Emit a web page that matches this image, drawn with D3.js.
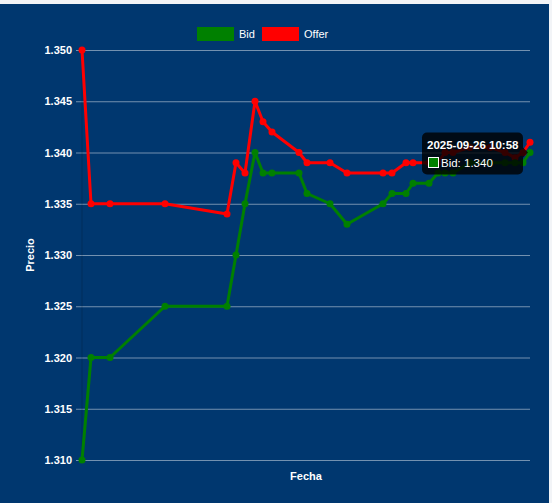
<!DOCTYPE html>
<meta charset="utf-8">
<style>
body { margin: 0; background: #f2f4f7; }
svg { display: block; font-family: "Liberation Sans", Arial, sans-serif; }
.tick text { fill: #fff; font-size: 11px; font-weight: bold; }
.label { fill: #fff; font-size: 11px; font-weight: bold; }
</style>
<body>
<script src="https://cdn.jsdelivr.net/npm/d3@7/dist/d3.min.js"></script>
<script>
var w = 552, h = 503,
    plotLeft = 82, plotRight = 530, plotTop = 50, plotBottom = 460;

var fechas = ["2025-09-21 18:58","2025-09-21 21:13","2025-09-22 01:58","2025-09-22 15:43",
  "2025-09-23 07:13","2025-09-23 09:28","2025-09-23 11:43","2025-09-23 14:13",
  "2025-09-23 16:13","2025-09-23 18:28","2025-09-24 01:13","2025-09-24 03:13",
  "2025-09-24 08:58","2025-09-24 13:13","2025-09-24 22:13","2025-09-25 00:28",
  "2025-09-25 03:58","2025-09-25 05:43","2025-09-25 09:43","2025-09-25 11:58",
  "2025-09-25 13:43","2025-09-25 15:43","2025-09-25 19:58","2025-09-26 00:58",
  "2025-09-26 04:43","2025-09-26 07:13","2025-09-26 09:13","2025-09-26 10:58"];
var bid = [1.310,1.320,1.320,1.325,1.325,1.330,1.335,1.340,1.338,1.338,1.338,1.336,
  1.335,1.333,1.335,1.336,1.336,1.337,1.337,1.338,1.338,1.338,1.339,1.339,
  1.339,1.339,1.339,1.340];
var offer = [1.350,1.335,1.335,1.335,1.334,1.339,1.338,1.345,1.343,1.342,1.340,1.339,
  1.339,1.338,1.338,1.338,1.339,1.339,1.339,1.339,1.340,1.340,1.3405,1.3405,
  1.340,1.3395,1.340,1.341];
var yTicks = [1.310,1.315,1.320,1.325,1.330,1.335,1.340,1.345,1.350];

var parse = d3.timeParse("%Y-%m-%d %H:%M");
var dates = fechas.map(parse);

var x = d3.scaleTime().domain(d3.extent(dates)).range([plotLeft, plotRight]);
var y = d3.scaleLinear().domain([1.310, 1.350]).range([plotBottom, plotTop]);

var svg = d3.select("body").append("svg")
    .attr("width", w)
    .attr("height", h);

svg.append("rect")
    .attr("x", 0).attr("y", 4)
    .attr("width", 549).attr("height", h - 4)
    .attr("fill", "#00376f");

/* y axis with grid */
var yAxis = svg.append("g")
    .attr("transform", "translate(" + plotLeft + ",0)")
    .call(d3.axisLeft(y).tickValues(yTicks).tickFormat(d3.format(".3f"))
      .tickSize(6).tickPadding(4));
yAxis.select(".domain").remove();
yAxis.selectAll(".tick line")
    .attr("x2", plotRight - plotLeft)
    .attr("x1", -6)
    .attr("stroke", "rgba(255,255,255,0.45)");

svg.append("line")
    .attr("x1", plotLeft).attr("x2", plotLeft)
    .attr("y1", plotTop).attr("y2", plotBottom)
    .attr("stroke", "rgba(0,0,0,0.18)");

/* axis titles */
svg.append("text")
    .attr("class", "label")
    .attr("transform", "translate(34,255) rotate(-90)")
    .attr("text-anchor", "middle")
    .text("Precio");

svg.append("text")
    .attr("class", "label")
    .attr("x", 306).attr("y", 480)
    .attr("text-anchor", "middle")
    .text("Fecha");

/* legend */
var legend = [
  {name: "Bid", color: "#008000", x: 197},
  {name: "Offer", color: "#ff0000", x: 262}
];
var lg = svg.selectAll("g.legend").data(legend).enter().append("g")
    .attr("class", "legend")
    .attr("transform", function(d) { return "translate(" + d.x + ",27)"; });
lg.append("rect")
    .attr("width", 37).attr("height", 14)
    .attr("fill", function(d) { return d.color; });
lg.append("text")
    .attr("class", "label")
    .attr("x", 42).attr("y", 11)
    .style("font-weight", "normal")
    .text(function(d) { return d.name; });

/* series */
var series = [
  {name: "Offer", color: "#ff0000", values: offer},
  {name: "Bid", color: "#008000", values: bid}
];
var line = d3.line()
    .x(function(d, i) { return x(dates[i]); })
    .y(function(d) { return y(d); });

var sg = svg.selectAll("g.series").data(series).enter().append("g")
    .attr("class", "series");
sg.append("path")
    .attr("d", function(d) { return line(d.values); })
    .attr("fill", "none")
    .attr("stroke", function(d) { return d.color; })
    .attr("stroke-width", 3)
    .attr("stroke-linejoin", "round");
sg.selectAll("circle")
    .data(function(d) { return d.values.map(function(v) { return {v: v, c: d.color}; }); })
  .enter().append("circle")
    .attr("cx", function(d, i) { return x(dates[i]); })
    .attr("cy", function(d) { return y(d.v); })
    .attr("r", 3.5)
    .attr("fill", function(d) { return d.c; });

/* tooltip on last bid point */
var last = bid.length - 1,
    px = x(dates[last]), py = y(bid[last]),
    tw = 101, th = 42,
    tx = px - 7 - tw, ty = py - 20;
var tip = svg.append("g");
tip.append("rect")
    .attr("x", tx).attr("y", ty)
    .attr("width", tw).attr("height", th)
    .attr("rx", 5)
    .attr("fill", "rgba(0,0,0,0.8)");
tip.append("path")
    .attr("d", "M" + (tx + tw) + "," + (py - 5) + "L" + (px - 2) + "," + py + "L" + (tx + tw) + "," + (py + 5) + "Z")
    .attr("fill", "rgba(0,0,0,0.8)");
tip.append("text")
    .attr("x", tx + 5).attr("y", ty + 16)
    .attr("fill", "#fff")
    .style("font-size", "11.5px")
    .style("font-weight", "bold")
    .text(d3.timeFormat("%Y-%m-%d %H:%M")(dates[last]));
tip.append("rect")
    .attr("x", tx + 6.5).attr("y", ty + 25)
    .attr("width", 10).attr("height", 10)
    .attr("fill", "#008000")
    .attr("stroke", "#fff")
    .attr("stroke-width", 1);
tip.append("text")
    .attr("x", tx + 19).attr("y", ty + 34)
    .attr("fill", "#fff")
    .style("font-size", "11.5px")
    .text("Bid: " + d3.format(".3f")(bid[last]));
</script>
</body>
